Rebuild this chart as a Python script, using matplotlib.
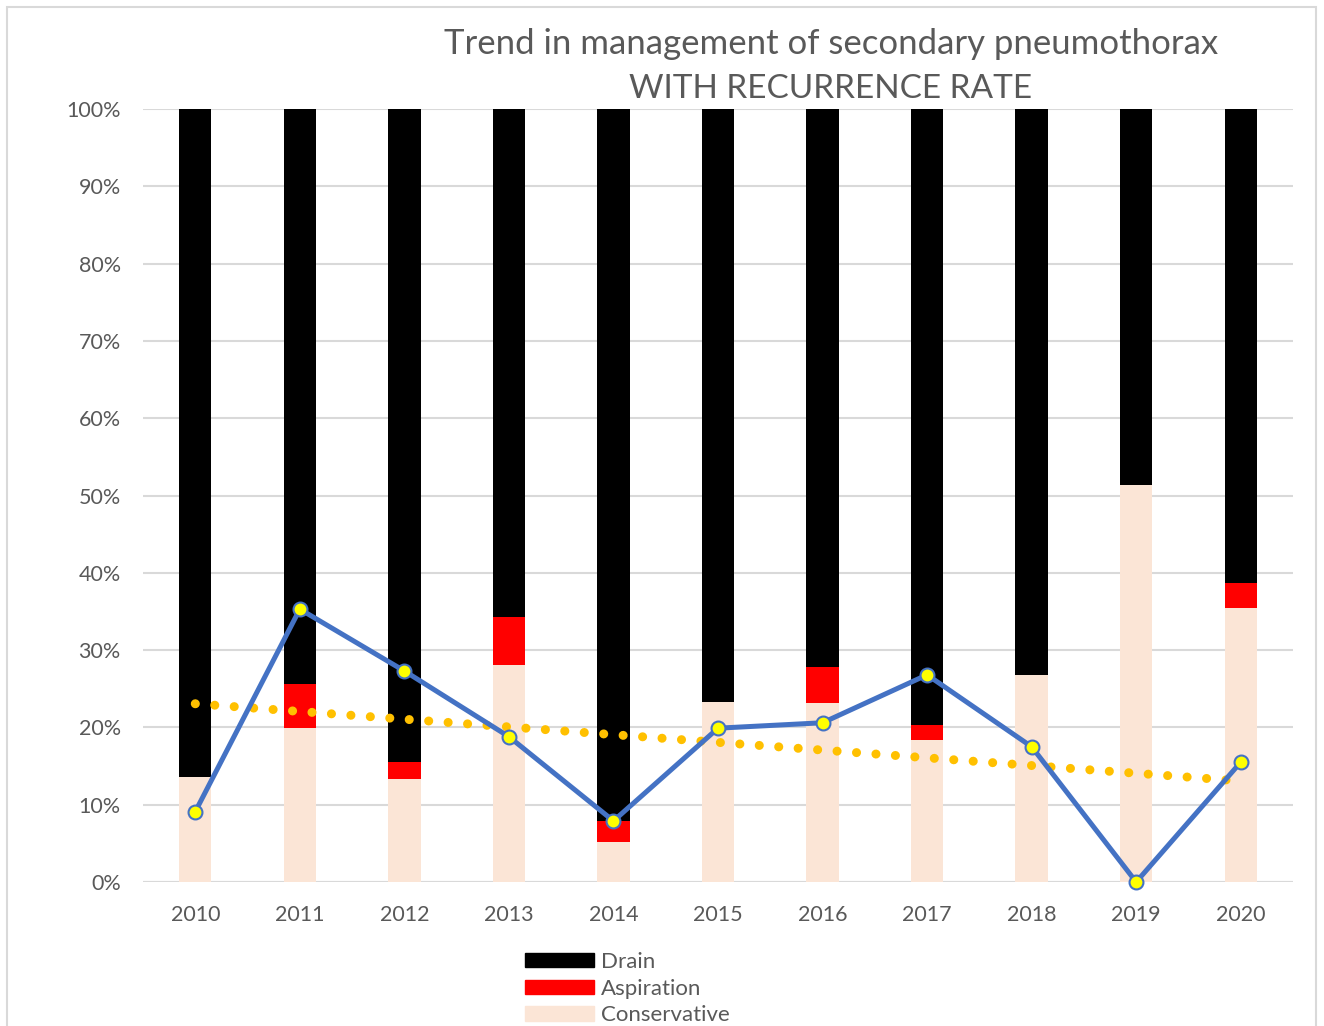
import numpy as np
import matplotlib
matplotlib.use("Agg")
import matplotlib.pyplot as plt
from matplotlib.patches import Patch, Rectangle

years = ["2010", "2011", "2012", "2013", "2014", "2015", "2016", "2017", "2018", "2019", "2020"]
conservative = [13.6, 19.9, 13.3, 28.1, 5.2, 23.3, 23.2, 18.4, 26.8, 51.4, 35.4]
aspiration = [0.0, 5.7, 2.2, 6.2, 2.7, 0.0, 4.6, 1.9, 0.0, 0.0, 3.3]
recurrence = [9.1, 35.3, 27.3, 18.8, 7.9, 19.9, 20.6, 26.8, 17.5, 0.0, 15.5]

cons = np.array(conservative) / 100
asp = np.array(aspiration) / 100
drain = 1 - cons - asp
rec = np.array(recurrence) / 100

plt.rcParams['font.family'] = ['Lato', 'DejaVu Sans']
TXT = '#595959'

fig = plt.figure(figsize=(13.24, 10.26), dpi=100)
ax = fig.add_axes([143/1324, 1-882/1026, (1293-143)/1324, (882-109)/1026])

x = np.arange(len(years))
w = 0.31
ax.bar(x, cons, w, color='#FBE5D6', label='Conservative', zorder=2)
ax.bar(x, asp, w, bottom=cons, color='#FF0000', label='Aspiration', zorder=2)
ax.bar(x, drain, w, bottom=cons + asp, color='#000000', label='Drain', zorder=2)

# linear trendline of recurrence rate
coef = np.polyfit(x, rec, 1)
ax.plot(x, np.polyval(coef, x), color='#FFC000', lw=6.5,
        linestyle=(0, (0.01, 2.15)), dash_capstyle='round', zorder=3)

ax.plot(x, rec, color='#4472C4', lw=3.6, marker='o', markersize=10,
        markerfacecolor='#FFFF00', markeredgecolor='#4472C4', markeredgewidth=1.5,
        zorder=4, clip_on=False)

ax.set_xlim(-0.5, len(years) - 0.5)
ax.set_ylim(0, 1)
ax.set_yticks(np.arange(0, 1.01, 0.1))
ax.set_yticklabels([f"{int(round(v*100))}%" for v in np.arange(0, 1.01, 0.1)])
ax.set_xticks(x)
ax.set_xticklabels(years)
ax.tick_params(axis='y', length=0, labelsize=15.5, labelcolor=TXT, pad=16)
ax.tick_params(axis='x', length=0, labelsize=15.5, labelcolor=TXT, pad=16.5)
ax.grid(axis='y', color='#D9D9D9', lw=1.5, zorder=0)
for s in ax.spines.values():
    s.set_visible(False)
ax.axhline(0, color='#D9D9D9', lw=1.5, zorder=1)

fig.text(831/1324, 1-44/1026, "Trend in management of secondary pneumothorax",
         ha='center', va='center', fontsize=25, color=TXT)
fig.text(831/1324, 1-89/1026, "WITH RECURRENCE RATE",
         ha='center', va='center', fontsize=24, color=TXT)

handles = [Patch(color='#000000'), Patch(color='#FF0000'), Patch(color='#FBE5D6')]
fig.legend(handles, ['Drain', 'Aspiration', 'Conservative'],
           loc='upper left', bbox_to_anchor=(525/1324, 1-952/1026),
           frameon=False, fontsize=16, labelcolor=TXT,
           handlelength=3.1, handleheight=0.6, handletextpad=0.3,
           labelspacing=0.3, borderpad=0, borderaxespad=0)

fig.patches.append(Rectangle((7/1324, -0.01), (1316-7)/1324, 1.01-7/1026,
                             transform=fig.transFigure, fill=False,
                             edgecolor='#D9D9D9', lw=1.5))

fig.savefig('out.png', dpi=100, facecolor='white')
